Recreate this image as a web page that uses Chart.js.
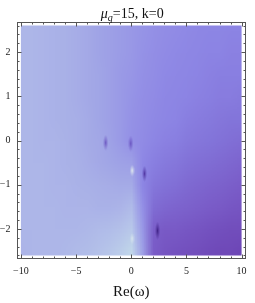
<!DOCTYPE html>
<html>
<head>
<meta charset="utf-8">
<script src="https://cdn.jsdelivr.net/npm/chart.js@4"></script>
<style>
  html, body { margin: 0; padding: 0; background: #fff; }
  #wrap { width: 255px; height: 303px; }
</style>
</head>
<body>
<div id="wrap"><canvas id="chart" width="255" height="303"></canvas></div>
<script>
// Re(omega) cell centres and Im(omega) cell centres of the density grid
const reCols = [-10, -9, -8, -7, -6, -5, -4, -3, -2, -1, 0, 1, 2, 3, 4, 5, 6, 7, 8, 9, 10];
const imRows = [2.5, 2, 1.5, 1, 0.5, 0, -0.5, -1, -1.5, -2, -2.5];

// density level (0 = dark purple, 1 = pale), one row per imRows entry
const density = [
  [.72, .72, .71, .70, .69, .67, .65, .62, .60, .58, .56, .54, .52, .50, .49, .48, .47, .46, .46, .45, .45],
  [.72, .72, .71, .70, .69, .67, .65, .62, .60, .58, .56, .53, .51, .49, .48, .47, .46, .45, .45, .44, .44],
  [.72, .72, .71, .70, .69, .67, .65, .63, .60, .57, .55, .52, .50, .48, .47, .46, .45, .44, .43, .43, .43],
  [.72, .72, .71, .70, .69, .67, .65, .63, .60, .57, .54, .51, .49, .47, .46, .45, .44, .43, .42, .42, .41],
  [.72, .72, .71, .70, .69, .68, .66, .63, .60, .57, .53, .50, .48, .46, .45, .43, .42, .41, .40, .39, .39],
  [.72, .72, .71, .71, .70, .68, .66, .64, .61, .57, .52, .49, .46, .44, .43, .41, .40, .39, .38, .37, .36],
  [.72, .72, .72, .71, .70, .69, .67, .65, .63, .61, .60, .47, .43, .41, .40, .38, .37, .36, .35, .34, .33],
  [.72, .72, .72, .71, .71, .70, .69, .68, .67, .66, .66, .46, .40, .38, .37, .35, .34, .33, .32, .31, .30],
  [.72, .72, .72, .72, .71, .71, .71, .70, .70, .71, .74, .52, .36, .34, .33, .32, .31, .30, .29, .28, .27],
  [.72, .72, .72, .72, .72, .72, .73, .74, .75, .77, .80, .56, .31, .29, .29, .28, .27, .26, .25, .24, .24],
  [.71, .72, .72, .72, .73, .74, .75, .77, .79, .82, .86, .60, .30, .27, .26, .25, .24, .23, .22, .22, .21]
];

// dark spots (poles) and pale spots (zeros)
const poles = [{x: -2.32, y: -0.05}, {x: -0.05, y: -0.07}, {x: 1.2, y: -0.75}, {x: 2.38, y: -2.04}];
const zeros = [{x: 0.08, y: -0.68}, {x: 0.08, y: -2.22}];

// frame ticks
const xTicks = [-10, -5, 0, 5, 10];
const yTicks = [-2, -1, 0, 1, 2];
const xMinor = [-9, -8, -7, -6, -4, -3, -2, -1, 1, 2, 3, 4, 6, 7, 8, 9];
const yMinor = [-2.6, -2.4, -2.2, -1.8, -1.6, -1.4, -1.2, -0.8, -0.6, -0.4, -0.2,
                0.2, 0.4, 0.6, 0.8, 1.2, 1.4, 1.6, 1.8, 2.2, 2.4, 2.6];

const plotRange = {re: [-10, 10], im: [-2.6, 2.6]};

// colour ramp for density levels
const ramp = [
  [0.00, [60, 24, 128]],
  [0.20, [108, 68, 180]],
  [0.30, [122, 92, 200]],
  [0.38, [130, 114, 216]],
  [0.45, [140, 132, 228]],
  [0.52, [148, 144, 230]],
  [0.62, [160, 164, 230]],
  [0.72, [173, 182, 232]],
  [0.80, [184, 200, 234]],
  [0.88, [196, 220, 234]],
  [1.00, [232, 244, 236]]
];

function rampColor(t) {
  for (let i = 1; i < ramp.length; i++) {
    if (t <= ramp[i][0]) {
      const a = ramp[i - 1], b = ramp[i];
      const f = (t - a[0]) / (b[0] - a[0]);
      return a[1].map((c, k) => Math.round(c + (b[1][k] - c) * f));
    }
  }
  return ramp[ramp.length - 1][1];
}

const serif = '"Liberation Serif", "DejaVu Serif", serif';

function minusFmt(v) {
  return v < 0 ? '\u2212' + Math.abs(v) : String(v);
}

function spot(w, h, rgb, alpha) {
  const c = document.createElement('canvas');
  c.width = w; c.height = h;
  const g = c.getContext('2d');
  g.setTransform(1, 0, 0, h / w, w / 2, h / 2);
  const grad = g.createRadialGradient(0, 0, 0, 0, 0, w / 2);
  grad.addColorStop(0, `rgba(${rgb},${alpha})`);
  grad.addColorStop(0.45, `rgba(${rgb},${alpha * 0.5})`);
  grad.addColorStop(1, `rgba(${rgb},0)`);
  g.fillStyle = grad;
  g.fillRect(-w / 2, -w / 2, w, w);
  return c;
}

const poleImgs = [
  spot(5, 16, '90,60,180', 0.75),
  spot(5, 16, '90,60,180', 0.75),
  spot(5, 16, '70,40,150', 0.85),
  spot(5, 18, '60,30,130', 0.95)
];
const zeroImgs = [spot(5, 12, '240,250,240', 0.85), spot(5, 12, '240,250,240', 0.55)];

const densityPlugin = {
  id: 'densityPlugin',
  beforeDatasetsDraw(chart) {
    const {ctx, scales: {x, y}} = chart;
    const off = document.createElement('canvas');
    off.width = reCols.length; off.height = imRows.length;
    const octx = off.getContext('2d');
    const img = octx.createImageData(off.width, off.height);
    density.forEach((row, j) => row.forEach((v, i) => {
      const c = rampColor(v);
      const p = (j * off.width + i) * 4;
      img.data[p] = c[0]; img.data[p + 1] = c[1]; img.data[p + 2] = c[2]; img.data[p + 3] = 255;
    }));
    octx.putImageData(img, 0, 0);

    const dx = (reCols[1] - reCols[0]) / 2, dy = (imRows[0] - imRows[1]) / 2;
    const x0 = x.getPixelForValue(reCols[0] - dx), x1 = x.getPixelForValue(reCols[reCols.length - 1] + dx);
    const y0 = y.getPixelForValue(imRows[0] + dy), y1 = y.getPixelForValue(imRows[imRows.length - 1] - dy);
    const cx0 = x.getPixelForValue(plotRange.re[0]), cx1 = x.getPixelForValue(plotRange.re[1]);
    const cy0 = y.getPixelForValue(plotRange.im[1]), cy1 = y.getPixelForValue(plotRange.im[0]);

    ctx.save();
    ctx.beginPath();
    ctx.rect(cx0, cy0, cx1 - cx0, cy1 - cy0);
    ctx.clip();
    ctx.imageSmoothingEnabled = true;
    ctx.imageSmoothingQuality = 'low';
    ctx.drawImage(off, x0, y0, x1 - x0, y1 - y0);
    ctx.restore();
  },
  afterDraw(chart) {
    const {ctx, chartArea: a, scales: {x, y}} = chart;
    ctx.save();
    ctx.strokeStyle = '#555';
    ctx.lineWidth = 1;
    const L = Math.round(a.left) + 0.5, R = Math.round(a.right) - 0.5;
    const T = Math.round(a.top) + 0.5, B = Math.round(a.bottom) - 0.5;
    ctx.strokeRect(L, T, R - L, B - T);
    ctx.beginPath();
    const tickX = (v, len) => {
      const px = Math.round(x.getPixelForValue(v)) + 0.5;
      ctx.moveTo(px, B); ctx.lineTo(px, B - len);
      ctx.moveTo(px, T); ctx.lineTo(px, T + len);
    };
    const tickY = (v, len) => {
      const py = Math.round(y.getPixelForValue(v)) + 0.5;
      ctx.moveTo(L, py); ctx.lineTo(L + len, py);
      ctx.moveTo(R, py); ctx.lineTo(R - len, py);
    };
    xTicks.forEach(v => tickX(v, 4));
    xMinor.forEach(v => tickX(v, 2));
    yTicks.forEach(v => tickY(v, 4));
    yMinor.forEach(v => tickY(v, 2));
    ctx.stroke();

    // title: mu_q=15, k=0
    const parts = [
      {t: '\u03bc', font: 'italic 14px ' + serif, dy: 0},
      {t: 'q', font: 'italic 10px ' + serif, dy: 3},
      {t: '=15, k=0', font: '14px ' + serif, dy: 0}
    ];
    let w = 0;
    parts.forEach(p => { ctx.font = p.font; p.w = ctx.measureText(p.t).width; w += p.w; });
    let cx = (a.left + a.right) / 2 + 1 - w / 2;
    ctx.fillStyle = '#111';
    ctx.textBaseline = 'alphabetic';
    parts.forEach(p => { ctx.font = p.font; ctx.fillText(p.t, cx, 18 + p.dy); cx += p.w; });
    ctx.restore();
  }
};

new Chart(document.getElementById('chart'), {
  type: 'scatter',
  data: {
    datasets: [
      {
        data: poles,
        pointStyle: ctx => poleImgs[ctx.dataIndex],
        pointRadius: 8,
        pointHoverRadius: 8
      },
      {
        data: zeros,
        pointStyle: ctx => zeroImgs[ctx.dataIndex],
        pointRadius: 6,
        pointHoverRadius: 6
      }
    ]
  },
  options: {
    responsive: false,
    animation: false,
    devicePixelRatio: 1,
    layout: {padding: {top: 22, right: 2.5, left: 0, bottom: 0}},
    plugins: {legend: {display: false}, tooltip: {enabled: false}, title: {display: false}},
    scales: {
      x: {
        type: 'linear',
        position: 'bottom',
        min: -10.4,
        max: 10.4,
        afterBuildTicks: s => { s.ticks = xTicks.map(v => ({value: v})); },
        afterFit: s => { s.height = 44; },
        grid: {display: false, drawTicks: false},
        border: {display: false},
        ticks: {callback: minusFmt, font: {family: serif, size: 10}, color: '#222', padding: 6, maxRotation: 0, autoSkip: false},
        title: {display: true, text: 'Re(\u03c9)', font: {family: serif, size: 15}, color: '#111', padding: {top: 0, bottom: 2}}
      },
      y: {
        type: 'linear',
        position: 'left',
        min: -2.68,
        max: 2.68,
        afterBuildTicks: s => { s.ticks = yTicks.map(v => ({value: v})); },
        afterFit: s => { s.width = 16.5; },
        grid: {display: false, drawTicks: false},
        border: {display: false},
        ticks: {callback: minusFmt, font: {family: serif, size: 10}, color: '#222', padding: 6, autoSkip: false}
      }
    }
  },
  plugins: [densityPlugin]
});
</script>
</body>
</html>
